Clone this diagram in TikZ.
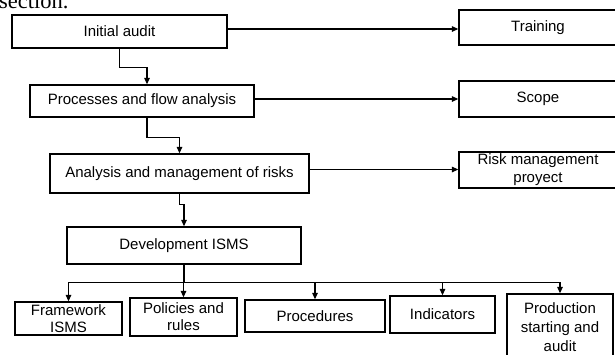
\documentclass[tikz,border=0pt]{standalone}
\usepackage{fontspec}
\setmainfont{Liberation Sans}
\newfontfamily\serifcut{Liberation Serif}
\usetikzlibrary{arrows.meta}
\tikzset{
  box/.style={draw, line width=1.3pt, inner sep=0pt, align=center,
    font=\fontsize{15}{18}\selectfont},
  arr/.style={line width=1.2pt, -{Triangle[length=6.5pt,width=5.5pt]}},
}
\begin{document}
\begin{tikzpicture}[x=1pt,y=-1pt]
\useasboundingbox (0,0) rectangle (615,354);
\clip (0,0) rectangle (615,354);
\node[anchor=base west, inner sep=0pt, font=\serifcut\fontsize{22.5}{24}\selectfont] (sec) at (-1,8) {section.};
% main column
\node[box, minimum width=215pt, minimum height=33pt] (init) at (119.5,31.5) {Initial audit};
\node[box, minimum width=224pt, minimum height=32pt] (proc) at (142,101) {Processes and flow analysis};
\node[box, minimum width=259pt, minimum height=39pt] (anal) at (179.5,173.5) {Analysis and management of risks};
\node[box, minimum width=234pt, minimum height=37pt] (dev) at (184,245.5) {Development ISMS};
% right column
\node[box, minimum width=158pt, minimum height=35pt] (train) at (538,27.5) {Training};
\node[box, minimum width=158pt, minimum height=36pt] (scope) at (538,99) {Scope};
\node[box, minimum width=158pt, minimum height=36pt, font=\fontsize{15}{18}\selectfont] (risk) at (538,170) {Risk management\\proyect};
% bottom row
\node[box, minimum width=107pt, minimum height=33pt, font=\fontsize{15}{17}\selectfont] (fw) at (68.5,318.5) {Framework\\ISMS};
\node[box, minimum width=107pt, minimum height=38pt, font=\fontsize{15}{17}\selectfont] (pol) at (183.5,317) {Policies and\\rules};
\node[box, minimum width=140pt, minimum height=32pt] (procd) at (315,316) {Procedures};
\node[box, minimum width=105pt, minimum height=37pt] (ind) at (442.5,314.5) {Indicators};
\node[box, minimum width=106pt, minimum height=66pt, font=\fontsize{15}{19}\selectfont] (prod) at (560,327) {Production\\starting and\\audit};
% horizontal connectors
\draw[arr] ([yshift=2.5pt]init.east) -- ([yshift=2.5pt]init.east -| train.west);
\draw[arr] ([yshift=2pt]proc.east) -- ([yshift=2pt]proc.east -| scope.west);
\draw[arr] ([yshift=4pt]anal.east) -- ([yshift=4pt]anal.east -| risk.west);
% vertical connectors
\draw[arr] (init.south) -- ++(0,19) -| ([xshift=5pt]proc.north);
\draw[arr] ([xshift=5pt]proc.south) -- ++(0,20) -| (anal.north);
\draw[arr] (anal.south) -- ++(0,11) -| (dev.north);
\draw[arr] (dev.south) -- ++(0,18) -| (fw.north);
\draw[arr] (dev.south) -- ++(0,18) -| (pol.north);
\draw[arr] (dev.south) -- ++(0,18) -| (procd.north);
\draw[arr] (dev.south) -- ++(0,18) -| (ind.north);
\draw[arr] (dev.south) -- ++(0,18) -| (prod.north);
\end{tikzpicture}
\end{document}
